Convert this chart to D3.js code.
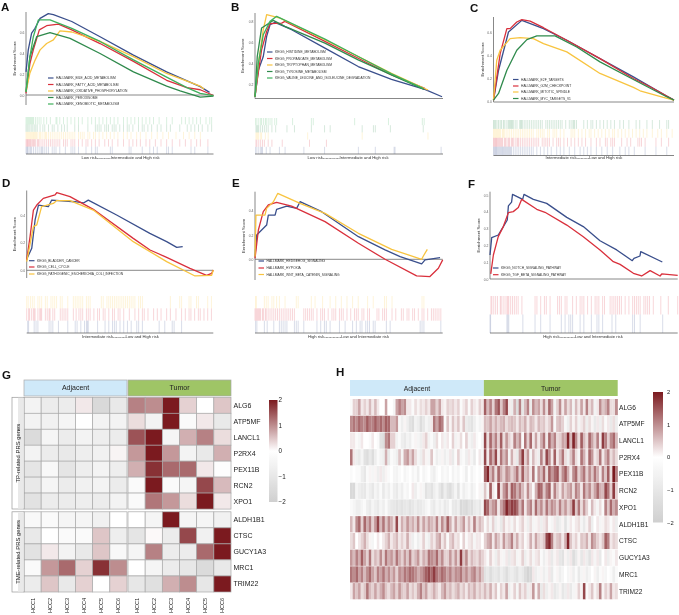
<!DOCTYPE html>
<html><head><meta charset="utf-8">
<script src="https://cdn.jsdelivr.net/npm/d3@7"></script>
<style>html,body{margin:0;padding:0;background:#fff}svg{display:block;filter:blur(.3px)}text{font-family:"Liberation Sans",Arial,sans-serif}</style>
</head><body><svg id="c" width="679" height="615"></svg>
<script>
// ---------- GSEA running scores: [rank %, enrichment score] ----------
const A_BILE=[[0,.22],[1.2,.43],[3,.59],[4.8,.635],[7.5,.73],[11.9,.775],[14.6,.765],[24.4,.70],[39.5,.555],[57.3,.38],[75,.22],[92.9,.08],[97.9,.025]];
const A_FATTY=[[0,.015],[2.1,.30],[3.9,.43],[7.1,.62],[11,.66],[17.3,.675],[24.4,.62],[39.5,.49],[57.3,.32],[75,.14],[85.8,.07],[92.9,.05],[100,-.005]];
const A_OXPHOS=[[0,.03],[2.1,.21],[4.8,.33],[7.5,.43],[11,.49],[14.6,.525],[18.1,.61],[24.4,.60],[39.5,.51],[57.3,.365],[75,.205],[92.9,.085],[95,.055]];
const A_PEROX=[[0,.03],[2.1,.365],[5.7,.555],[12.8,.595],[23.5,.54],[39.5,.395],[57.3,.22],[75,.085],[82.2,.04],[92.9,-.02],[100,-.01]];
const A_XENO=[[0,.03],[2.1,.365],[3.9,.555],[6.6,.715],[12.8,.715],[24.4,.635],[39.5,.51],[57.3,.335],[75,.17],[85.8,.07],[92.9,.015],[100,-.005]];
const B_HIST=[[0,.077],[1.8,.335],[4.4,.465],[6.2,.658],[8,.771],[10.6,.794],[19.5,.723],[37.2,.545],[54.9,.368],[72.6,.245],[90.3,.148],[99.5,.077]];
const B_PROP=[[0,.077],[1.2,.239],[3.5,.529],[6.2,.706],[8,.781],[14.2,.787],[15.9,.803],[37.2,.61],[54.9,.448],[72.6,.287],[90.3,.158]];
const B_TRYP=[[0,.077],[1.8,.4],[4.4,.723],[6.2,.868],[13.3,.835],[37.2,.626],[54.9,.465],[72.6,.303],[92,.142]];
const B_TYRO=[[0,.077],[1.2,.465],[3.5,.739],[6.2,.771],[9.7,.813],[15.9,.755],[37.2,.594],[54.9,.432],[72.6,.287],[89.9,.148]];
const B_VALI=[[0,.077],[1.8,.4],[4.4,.674],[8,.803],[11.5,.852],[37.2,.632],[54.9,.465],[72.6,.297],[89.4,.158]];
const C_E2F=[[0,.014],[2.8,.271],[8.3,.6],[15.7,.7],[27.7,.629],[40.6,.529],[59,.371],[77.5,.214],[95.9,.049],[100,.014]];
const C_G2M=[[0,.014],[3.7,.414],[7.4,.629],[9.2,.629],[12.9,.686],[15.7,.706],[20.3,.694],[27.7,.637],[40.6,.529],[59,.371],[77.5,.2],[86.7,.129],[100,.014]];
const C_MITO=[[0,.014],[1.8,.357],[3.7,.443],[9.2,.543],[14.8,.551],[22.1,.543],[27.7,.5],[40.6,.429],[59,.243],[77.5,.123],[81.2,.094],[94.1,.037],[100,.014]];
const C_MYC=[[0,.014],[2.8,.071],[7.4,.271],[12.9,.443],[18.5,.534],[24,.566],[34.1,.566],[46.1,.471],[59,.343],[77.5,.191],[95.9,.043],[100,.014]];
const D_BLAD=[[0,.08],[2.7,.159],[4.5,.364],[6.3,.472],[11.6,.46],[13.4,.508],[25.9,.496],[30.4,.487],[33,.508],[48.2,.4],[66,.267],[75,.207],[80.4,.166],[83.6,.171]];
const D_CELL=[[0,.075],[1.8,.243],[3.6,.436],[5.4,.472],[8.9,.52],[15.2,.545],[16.1,.561],[23.2,.533],[35.7,.441],[57.1,.231],[66.1,.147],[75,.094],[87.5,.014],[96.4,-.036],[99.1,-.022],[100,.002]];
const D_ECOL=[[0,.063],[3.6,.316],[5.4,.328],[8,.46],[14.3,.484],[16.1,.504],[23.2,.504],[35.7,.436],[57.1,.207],[75,.063],[90.2,-.041],[99.1,-.036],[100,.002]];
const E_HEDG=[[0,.022],[.9,.2],[6.2,.282],[7.1,.364],[10.7,.364],[11.5,.411],[16.9,.438],[22.2,.419],[24,.474],[35.5,.392],[55.1,.186],[69.3,.077],[77.3,.022],[88.8,-.038],[90.6,-.005],[98.6,.014]];
const E_HYPO=[[0,.008],[1.8,.241],[4.4,.392],[7.1,.447],[11.5,.468],[19.5,.438],[37.3,.31],[55.1,.132],[69.3,0],[86.1,-.137],[93.2,-.142],[97.7,-.074],[100,-.005]];
const E_WNT=[[0,.022],[.5,.364],[5.3,.364],[6.2,.419],[9.8,.474],[12.1,.542],[24,.46],[37.3,.378],[55.1,.214],[72.8,.082],[88.8,0],[89.7,.027],[91.8,.082]];
const F_NOTCH=[[0,.143],[.9,.246],[4.4,.262],[7.1,.312],[9.2,.351],[9.8,.435],[11.5,.458],[12,.504],[17.4,.474],[18.1,.504],[23.1,.474],[30.2,.45],[40.9,.367],[49.7,.312],[58.6,.228],[67.5,.173],[75.8,.109],[76.7,.123],[79.9,.137],[80.3,.163],[91.8,.101]];
const F_TGF=[[.4,.03],[1.8,.143],[4.4,.252],[7.1,.312],[9.8,.395],[12.4,.401],[15.1,.425],[16.9,.474],[24.9,.415],[29.3,.397],[40.9,.321],[49.7,.252],[58.6,.173],[65.7,.103],[69.3,.087],[76.4,.034],[80.8,.018],[85.3,.05],[90.6,.018],[91.5,.03],[100,.022]];

// ---------- gene hit positions (rank %) ----------
const R_A_XENO=[0,.5,1,1.5,2,2.5,3,3.5,4,5,6,7,8,9.5,11,13,16,16.5,18,20,22,24,26,28,30,33,35,37,39,41,43,45,47,49,52,54,56,58,60,62,64,66,68,71,75,78,83,85,87,89,91,93,96,98,99];
const R_A_PEROX=[0,.6,1.2,2,2.8,3.6,4.4,5.2,6,7.5,9,10,12,14,15,17,19,20.5,22,26,28,33,37,38,39,40,42,43,44,46,47,48,50,52,54,55,57,60,62,63,65,67,70,72,75,77,82,86,88,90,92,94,97,99];
const R_A_OXPHOS=[0,.5,1,1.5,2,2.5,3,3.5,4,4.5,5,5.5,6,7,7.5,8,9,10,10.5,11,12,13,14,15,16,17,18,19,20,21,22,23,24,25,26,28,29,30,31,33,34,36,37,39,41,43,45,47,49,52,54,56,59,61,64,67,70,73,76,80,84,87,90,93];
const R_A_FATTY=[0,.4,.8,1.2,1.6,2,2.4,3,3.5,4,4.5,5,6,6.5,7,8,9,10,11,12,13,14,15,16,17,18,20,21,22,24,25,26,28,30,32,33,35,37,39,42,44,46,49,52,55,57,59,61,64,66,69,72,75,78,82,85,88,91,93,97];
const R_A_BILE=[0,.4,.8,1.2,2,2.5,3,4,5,6,7,8,8.5,9,10,11,12,14,15,16,18,21,24,25,26,28,32,35,37,38,45,46,55,56,62,66,68,70,75,76,78,88,90,97];
const R_B_VALI=[.3,1,2,3,3.5,4.5,5.5,6,7,8,9,10.5,11.5,20,30,31,53,71,89,90];
const R_B_TYRO=[.5,1,1.5,2,3,4,5,6,7,9,11,17,21,30,37,40,57,63,64,72,89.5];
const R_B_TRYP=[.5,1,1.5,2,3,3.5,5.5,7,28,57,92];
const R_B_PROP=[.5,1,2,3,4,5,7,9,14.5,29,38];
const R_B_HIST=[.3,1,2,3,3.5,4,6,8,13,16,26,37,55,64,74,74.5,99];
const R_C_MYC=[0,.5,1,1.5,2.5,3,4,4.5,5.5,6,7,8,8.5,9,9.5,10,10.5,11,12,13,14.5,15,15.5,16,17,18,19,20,21,22,23,24,25,26,27,29,30,31,32,33,34,35,36,37,38,40,42,43,44,44.5,45,46,50,52,54,55,57,59,61,63,65,67,70,72,75,79,81,85,88,92,96,97];
const R_C_MITO=[0,.5,1,1.5,2,2.5,3,3.5,4,5,5.5,6,7,8,9,10,11,12,13,14,15,16,17,18,19,20,21,22,24,25,26,27,28,30,31,33,34,35,37,39,43,44,45,47,49,51,53,54,56,58,60,62,64,66,67,69,71,73,75,77,79,81,83,85,88,91,93,96,99];
const R_C_G2M=[0,.4,.8,1.2,1.6,2,2.5,3,3.5,4,4.5,5,6,6.5,7,8,8.5,9,10,10.5,11,12,13,13.5,14,15,16,17,18,19,20,21,22,23,24,25,27,28,29,30,31,33,35,36,37,39,41,43,45,47,49,51,54,57,59,62,63,65,66,67,71,74,76,80,81,82,84,90,93,97];
const R_C_E2F=[0,.4,.8,1.2,1.6,2,2.5,3,3.5,4,4.5,5,5.5,6,6.5,7,7.5,8,8.5,9,9.5,10,11,12,13,14,15,16,17,18,19,20,21,22,24,26,28,30,32,35,37,39,42,45,48,50,52,54,57,60,63,66,70,73,75,78,84,90,96];
const R_D_ECOL=[0,.8,2,3,4,6,7,8,10,11,13,14,15,16,18,19,22,25,26,27,28,29,30,32,33,34,40,41,43,44,45,46,47,48,49,50,51,52,53,54,55,56,57,58,60,61,62,77,82,83,87,88,91,92,97,99];
const R_D_CELL=[0,1,1.5,2.5,3.5,4,4.5,6,7,7.5,8,10,11,12,12.5,14,15,18,19,20,21,22,25,26.5,28,29,30,32,33,34,36,38,39,41,42,44,46,47,49,50,52,55,58,60,62,63,65,68,70,72,75,77,80,83,85,87,88,90,92,93,95,97,99];
const R_D_BLAD=[.5,1,4,5,6,12,13,14,17,22,26,27,29,31,32,32.5,33,38,42,44,46,47,48,50,52,54,56,59,60,62,71,74,78,79,83];
const R_E_WNT=[.3,.7,5,6,7,9,10,11.5,13,16,22,23,30,32,36,40,43,46,49,52,55,60,63,69,70,73,89,90];
const R_E_HYPO=[0,.5,1,1.5,2,2.5,3,4,4.5,5.5,6,7,8,9,10,11,12,13,14,15,16,17,18,19,20,21,26,27,28,29,30,31,33,35,36,37,39,41,42,43,45,46,47,49,51,53,54,55,57,58,60,61,65,66,68,69,70,73,75,78,79,81,82,84,85,87,89,90,92,94,95,96,97,98,99];
const R_E_HEDG=[.3,1,5,6.5,10,13,14,15,16,17,21,22,23,26,33,35,37,38,40,45,48,52,54,56,57,59,60,61,63,64,70,72,88,89,90,99];
const R_F_TGF=[.5,1,2,3,4,5.5,6,7,8,9,9.5,10,11,12,13,14,15,17,24,25,27,29,30,32,36,37,38,40,41,44,46,48,49,50,52,54,56,57,58,60,61,64,65,66,67,68,69,70,72,74,76,77,78,79,80,82,83,84,85,87,91,95,100];
const R_F_NOTCH=[0,.3,9,9.5,10,17.5,24,27,32,38,40,42,43,44,48,50,54,57,58,60,65,67,76,77,80,92];

// ---------- heatmap G ----------
const G_GENES=["ALG6","ATP5MF","LANCL1","P2RX4","PEX11B","RCN2","XPO1","ALDH1B1","CTSC","GUCY1A3","MRC1","TRIM22"];
const G_SAMPLES=["HCC1","HCC2","HCC3","HCC4","HCC5","HCC6"];
const G_ALG6=[-.5,-.8,-.8,.2,-1.6,-.9,1.1,1,2,.4,0,.5];
const G_ATP5MF=[-.5,-.6,-.4,0,-.5,-.5,.3,-.5,2,-.2,.2,-.9];
const G_LANCL1=[-1.5,-.4,-.8,-.5,-.7,-.8,1.5,2,-.4,.7,1.1,.3];
const G_P2RX4=[-.5,-.8,-.9,-.7,-.6,.1,.9,2,.9,-.5,-.9,.7];
const G_PEX11B=[-1.1,-.3,-1.1,-.7,-.5,-.7,.7,1.8,1.3,1.3,.2,-.1];
const G_RCN2=[-.9,-.4,-.8,-.6,-.5,-.8,-.2,2,-.2,-.4,1.6,.6];
const G_XPO1=[-1.2,-.8,-.8,-.7,-.8,-.5,-.2,1.2,.9,.3,2,.2];
const G_ALDH1B1=[-.3,-.2,-.4,-.4,-.6,0,0,-.4,2,-.4,-.4,-.6];
const G_CTSC=[-.9,0,-.2,-.2,.5,-.7,-1.1,.05,-.8,1.6,-.6,2];
const G_GUCY1A3=[-1.2,.2,-.5,-.9,.5,-.3,-.4,1.1,-.8,-.8,1.3,2];
const G_MRC1=[-.2,.9,1.3,.4,1.8,1,0,-.4,-.8,-1,-1.5,-.9];
const G_TRIM22=[-.8,.5,-.9,.4,0,.4,-1,-1.3,.7,1,-1,2];

// ---------- heatmap H (50 adjacent columns, then 50 tumor columns) ----------
const H_ALG6=[-.2,.4,.4,.8,.2,.4,.2,.6,.2,.6,.2,0,0,.8,0,0,-.4,.8,1.1,.8,1,.2,.2,-.2,.3,.1,.3,.2,.4,.2,.8,.8,.4,.8,.2,.1,.4,.3,.4,.2,.4,-.2,.2,.4,-.2,.4,.2,.1,.4,.2,
 1.4,.6,1.1,.4,1.2,1.5,.5,1.1,1.6,.2,-.7,.7,-1.4,1.1,-1,.6,1.1,-.8,1,.6,.8,.3,1,.3,1.3,.8,-.5,.4,1,.2,.8,.3,.6,-.5,.6,.2,.8,.2,1.1,.3,.6,-.5,.2,1,.5,.7,1.1,.3,.3,1];
const H_ATP5MF=[1,1.2,1,1.3,1.1,1,1.4,1.1,1.1,1.4,1.1,1.3,1,1.4,1.3,.6,.6,.9,-.3,-.7,.1,-.7,-1.2,-1.4,-.5,-.7,-1.4,-1,-.4,-.7,.2,1.2,.8,1.3,1.1,-.2,.5,.1,.5,.2,.5,.1,.5,-.8,-1,-1.2,-.7,-.2,-.5,.1,
 .6,.5,.8,.4,.7,.4,.6,.7,.3,.5,.6,.5,.2,.6,.4,.7,.2,.6,.5,.2,.6,.4,.5,.2,.4,.9,-.3,.5,.6,.4,-.3,-.7,.4,.1,.4,-.5,.2,.4,-.7,.3,.1,-.9,.2,-.7,.3,-.2,.2,-.9,.3,-.7];
const H_LANCL1=[.2,.2,-.2,-.4,.2,0,0,-.2,.2,0,-.2,-1.2,-1.4,1,1.2,.4,.4,-.5,-.2,-.7,-.9,-.5,-.7,-.2,.1,-.4,-.7,.2,.4,-.5,-.2,-.7,.3,0,.2,-.5,.2,0,.4,-.5,.1,.3,0,.4,-.4,-.7,.2,-.2,0,-.4,
 1.6,.3,1.3,.6,1.1,.4,1.4,.3,.9,.4,.2,1.1,.6,1,-.2,1.2,.4,1.3,.2,.8,.2,.7,1.2,.2,1.3,.7,1.1,.3,.4,.8,.7,1.9,.6,1.9,1,.3,1.4,.6,.3,1.3,.8,.4,1.1,.2,1.7,1.1,.4,1,1.3,.6];
const H_P2RX4=[1.2,.2,-.7,-.9,-.4,-1.2,-1.4,-.9,-1.4,-.7,-.2,-.5,-.7,.7,-.9,-.2,-.4,-.7,.5,-.4,.7,.9,.4,.8,.3,-.4,-.7,.3,.1,-.4,.5,-.2,-.7,-.4,.1,-.7,-.4,.2,-.9,-.2,.4,-.4,-.2,-.7,.2,-.4,-.9,0,.2,-.4,
 1.6,.2,1.3,.7,1.6,.2,1.2,.6,1,-.4,.7,.2,-.9,.8,1.7,.4,.9,-.4,.6,.2,-.7,1.1,.3,1.6,1,.2,1.4,.2,.6,1.2,.3,-.7,.5,1.1,.3,-.4,1.2,.7,.2,1.3,.9,.2,.4,1.2,.2,.7,1.1,.3,.6,.3];
const H_PEX11B=[-.2,0,-.2,-.2,-.7,-1,-.2,.1,-.4,.1,-.7,.2,-.7,.1,-.2,0,-.4,-.5,-.2,0,-.4,-.2,0,-.4,-.2,-.7,0,-.4,-.2,0,-.5,-.7,-.2,0,-.4,-.2,-.4,0,-.5,-.2,-.4,0,-.2,-.7,0,-.5,-.2,0,-.2,0,
 1.4,1.9,.6,1.1,.3,1.3,.7,.4,1,.8,.4,.7,1.2,.4,1.4,.5,.7,.2,1.2,-.4,.9,.6,1.3,.3,1.4,.9,1.3,1.5,.4,1,1.4,.7,.2,1,1.3,.4,.8,1.2,.4,1,.5,1.2,.7,.2,1.1,.5,1.4,.3,2,1.1];
const H_RCN2=[-1.6,-1.6,-.4,-.7,-.9,-1,-.4,-.7,-1,-.4,-.7,-.2,-.9,-.4,-.7,-.2,-.7,-.9,-.4,-.7,-.2,-.4,0,.2,-.7,-.2,.1,-.4,-1.2,-.9,-1.2,-.7,-.4,-1,-1.4,-.7,-1.2,-1.4,-.9,-.4,-1.2,-.2,-.7,-.4,-.2,-.7,-.4,0,.1,-.4,
 .5,-.4,1.4,.2,-.2,1.7,.3,.9,1.3,.4,1.4,1.2,.7,1.1,.6,.2,1,.4,-.2,.7,1.4,1.3,.5,1.1,1.4,.2,1.1,.5,.2,.8,.4,.7,.9,.3,1.1,.8,.2,1.2,.6,1,.4,.8,1.3,.7,.6,1.6,1.2,.4,1.7,.4];
const H_XPO1=[-.2,-.4,-.7,-.7,-.4,-.2,-.7,-.9,-.4,-.7,-.9,-.4,-.7,-.2,-.7,-.9,-1,-1.2,-1,-1.2,-1,-.9,-1.2,-1,-.7,-1,-.9,-.7,-.4,-.2,-.7,-.9,-.4,-.7,-.4,-.9,-.7,-.2,-.9,-1,-.7,-1.6,-1.4,-1.6,-1.2,-1.4,-.9,-.7,-1,-.4,
 1.6,1.3,.6,.9,1.1,.2,.8,1.2,1.9,1.4,1.7,1.6,1.3,.6,1.2,.2,.8,1.1,.3,1.3,.6,1,.4,1.2,.6,1,.8,.4,1.1,.5,.9,.4,.7,1.7,.5,1.2,.3,.9,.4,-.2,.6,.2,-.4,.3,-.2,1.1,.5,1.3,.7,1];
const H_ALDH1B1=[.6,.2,1,1.3,.4,1.3,.7,1.1,.4,.9,1.6,.6,1.2,.5,1,.7,.3,1.6,.2,.7,.4,.9,.5,.7,.4,1,.3,.8,.4,.8,.6,.4,1.1,.3,1,.5,1.4,.7,.2,.8,.3,.5,.9,.2,.6,.2,1.1,.3,.6,.4,
 -.2,.3,-.4,.4,-.7,.1,-.9,.4,.1,.2,-.4,.3,-.2,.2,.4,.1,-.7,.3,-.4,.1,.2,-.7,.2,.4,-.2,-.4,.2,-1,-.7,.1,-1.2,-.4,.2,-.2,.2,.3,-.4,-.9,.1,.4,-.7,0,.2,-.4,.1,.3,.2,-.2,.2,-.7];
const H_CTSC=[.3,.5,0,.2,.4,.7,.3,.1,-.4,0,.2,0,.2,.4,.7,.2,.4,.6,.2,.4,.2,.7,.2,-.7,-.2,-.7,.1,.4,-.4,-.7,.4,.2,.6,.8,.2,.5,-.2,.4,.6,.2,.3,0,.4,-.2,.2,.3,-.4,.2,.2,0,
 .4,.7,.9,.2,.8,.5,.2,.9,.4,.6,1.1,.3,.7,.2,.4,-.2,.2,.7,.2,.8,.4,.3,.5,1.6,1.9,1.1,.3,.5,.6,.2,.7,1.9,.5,.2,.4,.1,.5,.4,.7,.2,1,.7,.4,.2,.5,1.4,1.1,.2,.4,.3];
const H_GUCY1A3=[.9,.6,1.1,.7,1.4,.8,.4,1.2,.3,.6,.4,1,.4,1.2,.7,.9,.5,1.2,.7,.4,.9,.5,1.1,.4,.6,.9,.3,.7,.5,1.2,1,.8,1.3,.6,1,.4,.4,.9,.4,.9,.4,1.7,.5,1,.3,.6,.4,.3,.6,.4,
 .2,-.2,.4,.1,-.7,.3,.1,-.4,.2,-.9,.2,.3,-.4,.1,.4,-.7,.1,.3,-.4,.2,.3,-.2,-.7,.1,.2,-.9,.1,.2,-1,-1.2,.1,-.7,.2,-1.4,-.9,.1,-1,.2,-.7,-1.2,.2,-.4,.2,-.9,0,.2,-.7,.1,-.2,.2];
const H_MRC1=[1.2,1,1.3,.8,1.1,.6,1,1.3,.8,.5,1.1,.8,1.2,.7,1,.6,.9,.4,1,.8,1.2,1,1.3,1.2,1,.7,.9,1.1,1.4,1.6,1.3,1.7,1.2,1,1.3,1.1,.8,1.1,.7,1,.9,1.2,.7,1,.6,.9,1.1,.6,.9,.5,
 -1.2,-.9,-1.4,-1,-.9,-1.2,-.7,-1,-1.4,-.9,-.7,-1,-1.2,-.7,-.9,-1.4,-1.8,-1.6,.2,-.7,-.4,.1,-.7,-.4,.2,-.9,-.2,.1,-.7,-.4,0,-.4,.1,-.7,-.2,-.9,-.4,.1,-.7,-.4,0,.1,-.7,-.2,.1,-.4,0,-.2,-.7,-.2];
const H_TRIM22=[.2,.8,.5,.8,.3,.5,1.2,.6,.4,.8,.4,.7,1,.5,.3,.6,.8,.4,.9,.5,.4,.8,.3,.5,.3,.7,1.1,.5,.8,.3,.4,.7,.4,.2,.6,.9,.4,.6,.3,.5,.7,.3,.5,.2,.6,.4,.7,.3,.5,.3,
 .6,.3,.7,.2,.5,-.2,.4,.2,.8,-.7,.1,.4,-.4,.5,.2,.4,-.7,.2,.9,.1,.7,-.9,.3,-.7,.1,.2,-1,-.7,.1,-1,-.7,.2,-.9,-.4,.1,.4,.1,1.6,-.2,.2,.5,.1,.3,1.1,.1,.4,.2,.8,.2,.3];
const H_ROWS=[H_ALG6,H_ATP5MF,H_LANCL1,H_P2RX4,H_PEX11B,H_RCN2,H_XPO1,H_ALDH1B1,H_CTSC,H_GUCY1A3,H_MRC1,H_TRIM22];
const G_ROWS=[G_ALG6,G_ATP5MF,G_LANCL1,G_P2RX4,G_PEX11B,G_RCN2,G_XPO1,G_ALDH1B1,G_CTSC,G_GUCY1A3,G_MRC1,G_TRIM22];
const LEGEND_TICKS=[2,1,0,-1,-2];

// ---------- panel tables ----------
const NAVY="#3a4f8c",RED="#d9303c",YEL="#f8c440",DGR="#2f8a4c",GRN="#3eb05c";
const panels=[
 {id:"A",lx:1,ly:11,l:26,r:213.5,yd:[0,.6],yr:[95,32],ticks:[0,.2,.4,.6],axT:12,axB:105,base:95,rugT:117,rugB:154,tx:16,foot:"Low risk----------Intermediate and High risk",fx:120.5,fy:158.5,lgX:48,lgY:[78,84.5,91,97.5,104],
  s:[["HALLMARK_BILE_ACID_METABOLISM",NAVY,A_BILE,R_A_BILE],["HALLMARK_FATTY_ACID_METABOLISM",RED,A_FATTY,R_A_FATTY],["HALLMARK_OXIDATIVE_PHOSPHORYLATION",YEL,A_OXPHOS,R_A_OXPHOS],["HALLMARK_PEROXISOME",DGR,A_PEROX,R_A_PEROX],["HALLMARK_XENOBIOTIC_METABOLISM",GRN,A_XENO,R_A_XENO]]},
 {id:"B",lx:231,ly:11,l:255,r:443,yd:[.2,.8],yr:[84,21.7],ticks:[.2,.4,.6,.8],axT:13,axB:98.5,base:98.5,rugT:118,rugB:154,tx:244,foot:"Low risk------------Intermediate and High risk",fx:348,fy:158.5,lgX:267,lgY:[52,58.5,65,71.5,78],
  s:[["KEGG_HISTIDINE_METABOLISM",NAVY,B_HIST,R_B_HIST],["KEGG_PROPANOATE_METABOLISM",RED,B_PROP,R_B_PROP],["KEGG_TRYPTOPHAN_METABOLISM",YEL,B_TRYP,R_B_TRYP],["KEGG_TYROSINE_METABOLISM",DGR,B_TYRO,R_B_TYRO],["KEGG_VALINE_LEUCINE_AND_ISOLEUCINE_DEGRADATION",GRN,B_VALI,R_B_VALI]]},
 {id:"C",lx:470,ly:12,l:493.5,r:674,yd:[0,.6],yr:[101.7,32],ticks:[0,.2,.4,.6],axT:17,axB:102,base:102,rugT:120,rugB:155.5,tx:483.5,foot:"Intermediate risk---------Low and High risk",fx:584,fy:158.5,lgX:513,lgY:[79.5,86,92,98.5],
  s:[["HALLMARK_E2F_TARGETS",NAVY,C_E2F,R_C_E2F],["HALLMARK_G2M_CHECKPOINT",RED,C_G2M,R_C_G2M],["HALLMARK_MITOTIC_SPINDLE",YEL,C_MITO,R_C_MITO],["HALLMARK_MYC_TARGETS_V1",DGR,C_MYC,R_C_MYC]]},
 {id:"D",lx:2,ly:187,l:26.7,r:213.3,yd:[0,.4],yr:[270.3,215],ticks:[0,.2,.4],axT:190.5,axB:278,base:270.3,rugT:296,rugB:333,tx:16,foot:"Intermediate risk---------Low and High risk",fx:120.5,fy:337.5,lgX:29,lgY:[260.7,267,274],
  s:[["KEGG_BLADDER_CANCER",NAVY,D_BLAD,R_D_BLAD],["KEGG_CELL_CYCLE",RED,D_CELL,R_D_CELL],["KEGG_PATHOGENIC_ESCHERICHIA_COLI_INFECTION",YEL,D_ECOL,R_D_ECOL]]},
 {id:"E",lx:232,ly:187,l:255,r:442.7,yd:[0,.4],yr:[259.3,210.7],ticks:[0,.2,.4],axT:191.7,axB:280,base:259.3,rugT:296,rugB:333,tx:245,foot:"High risk------------Low and Intermediate risk",fx:348.5,fy:337.5,lgX:258.5,lgY:[261,268,274.5],
  s:[["HALLMARK_HEDGEHOG_SIGNALING",NAVY,E_HEDG,R_E_HEDG],["HALLMARK_HYPOXIA",RED,E_HYPO,R_E_HYPO],["HALLMARK_WNT_BETA_CATENIN_SIGNALING",YEL,E_WNT,R_E_WNT]]},
 {id:"F",lx:468,ly:188,l:490,r:677.7,yd:[0,.5],yr:[279,195],ticks:[0,.1,.2,.3,.4,.5],axT:191.7,axB:279,base:279,rugT:296,rugB:333,tx:480,foot:"High risk-----------Low and Intermediate risk",fx:583,fy:337.5,lgX:493,lgY:[268,274.7],
  s:[["KEGG_NOTCH_SIGNALING_PATHWAY",NAVY,F_NOTCH,R_F_NOTCH],["KEGG_TGF_BETA_SIGNALING_PATHWAY",RED,F_TGF,R_F_TGF]]}
];

const svg=d3.select("#c");
const tickFmt=d3.format(".1f");
function panelLetter(t,x,y){svg.append("text").attr("x",x).attr("y",y).attr("font-size",11.5).attr("font-weight","bold").attr("fill","#111").text(t);}

panels.forEach(p=>{
  panelLetter(p.id,p.lx,p.ly);
  const x=d3.scaleLinear().domain([0,100]).range([p.l,p.r]);
  const y=d3.scaleLinear().domain(p.yd).range(p.yr);
  const g=svg.append("g");
  const ax=g.append("g").attr("transform",`translate(${p.l},0)`).call(d3.axisLeft(y).tickValues(p.ticks).tickSize(0).tickPadding(1.5).tickFormat(tickFmt));
  ax.select(".domain").remove();
  ax.selectAll("text").attr("font-size",3.4).attr("fill","#666").style("font-family",'"Liberation Sans"');
  g.append("line").attr("x1",p.l).attr("x2",p.l).attr("y1",p.axT).attr("y2",p.axB).attr("stroke","#6a6a6a").attr("stroke-width",.8);
  g.append("line").attr("x1",p.l).attr("x2",p.r).attr("y1",p.base).attr("y2",p.base).attr("stroke","#6a6a6a").attr("stroke-width",.8);
  g.append("text").attr("transform",`translate(${p.tx},${(p.axT+p.axB)/2}) rotate(-90)`).attr("text-anchor","middle").attr("font-size",4.3).attr("fill","#333").text("Enrichment Score");
  const line=d3.line().x(d=>x(d[0])).y(d=>y(d[1]));
  p.s.forEach(s=>{
    g.append("path").attr("d",line(s[2])).attr("fill","none").attr("stroke",s[1]).attr("stroke-width",1.3).attr("stroke-linejoin","round");
  });
  p.s.forEach((s,i)=>{
    g.append("line").attr("x1",p.lgX).attr("x2",p.lgX+5.5).attr("y1",p.lgY[i]).attr("y2",p.lgY[i]).attr("stroke",s[1]).attr("stroke-width",1.2);
    g.append("text").attr("x",p.lgX+8).attr("y",p.lgY[i]+1.2).attr("font-size",3.3).attr("fill","#333").text(s[0]);
  });
  const order=p.s.map((_,i)=>i).reverse();
  const band=d3.scaleBand().domain(order).range([p.rugT,p.rugB]);
  p.s.forEach((s,i)=>{
    g.append("g").selectAll("line").data(s[3]).join("line")
      .attr("x1",d=>x(d)).attr("x2",d=>x(d)).attr("y1",band(i)).attr("y2",band(i)+band.bandwidth())
      .attr("stroke",s[1]).attr("stroke-width",.75).attr("stroke-opacity",.26);
  });
  g.append("line").attr("x1",p.l).attr("x2",p.r).attr("y1",p.rugB).attr("y2",p.rugB).attr("stroke","#666").attr("stroke-width",.8);
  g.append("text").attr("x",p.fx).attr("y",p.fy).attr("text-anchor","middle").attr("font-size",4.2).attr("fill","#333").text(p.foot);
});

// ---------- heatmaps ----------
const color=d3.scaleLinear().domain([-2,0,2]).range(["#cfcfcf","#ffffff","#7b1a1f"]).clamp(true);
const ADJ_COL="#cfe9f9",TUM_COL="#9fc566";

// G
panelLetter("G",2,379);
const gx0=d3.scaleBand().domain(G_SAMPLES).range([24,127]);
const gx1=d3.scaleBand().domain(G_SAMPLES).range([128,231]);
const gRowY=d3.scaleBand().domain(G_GENES.slice(0,7)).range([397.3,509]);
const gRowY2=d3.scaleBand().domain(G_GENES.slice(7)).range([511.8,592]);
const gy=n=>G_GENES.indexOf(n)<7?gRowY(n):gRowY2(n);
[["Adjacent",24,127,ADJ_COL],["Tumor",128,231,TUM_COL]].forEach(a=>{
  svg.append("rect").attr("x",a[1]).attr("y",380).attr("width",a[2]-a[1]).attr("height",16).attr("fill",a[3]).attr("stroke","#aaa").attr("stroke-width",.7);
  svg.append("text").attr("x",(a[1]+a[2])/2).attr("y",390).attr("text-anchor","middle").attr("font-size",7).attr("fill","#222").text(a[0]);
});
G_GENES.forEach((gene,i)=>{
  const h=gRowY.bandwidth();
  G_ROWS[i].forEach((v,j)=>{
    const sx=j<6?gx0(G_SAMPLES[j]):gx1(G_SAMPLES[j-6]);
    svg.append("rect").attr("x",sx).attr("y",gy(gene)).attr("width",gx0.bandwidth()).attr("height",gRowY2.bandwidth()).attr("fill",color(v)).attr("stroke","#a9a9a9").attr("stroke-width",.7);
  });
  svg.append("text").attr("x",233.5).attr("y",gy(gene)+h/2+2.5).attr("font-size",7).attr("fill","#222").text(gene);
});
G_SAMPLES.forEach(s=>{[gx0,gx1].forEach(sc=>{
  svg.append("text").attr("transform",`translate(${sc(s)+sc.bandwidth()/2+2},613) rotate(-90)`).attr("font-size",5.6).attr("fill","#222").text(s);
});});
[["TP-related PRS genes",397.3,509],["TME-related PRS genes",511.8,592]].forEach(a=>{
  svg.append("rect").attr("x",12).attr("y",a[1]).attr("width",12).attr("height",a[2]-a[1]).attr("fill","#fff").attr("stroke","#999").attr("stroke-width",.7);
  svg.append("rect").attr("x",18).attr("y",a[1]+.5).attr("width",5.6).attr("height",a[2]-a[1]-1).attr("fill","#e9e9e9");
  svg.append("text").attr("transform",`translate(19.5,${(a[1]+a[2])/2}) rotate(-90)`).attr("text-anchor","middle").attr("font-size",5.9).attr("fill","#222").text(a[0]);
});

function legend(id,x,w,top,bot,lx,fs){
  const ly=d3.scaleLinear().domain([2,-2]).range([top,bot]);
  const def=svg.append("defs").append("linearGradient").attr("id",id).attr("x1",0).attr("x2",0).attr("y1",0).attr("y2",1);
  d3.range(0,1.001,.05).forEach(f=>def.append("stop").attr("offset",f).attr("stop-color",color(ly.invert(top+f*(bot-top)))));
  svg.append("rect").attr("x",x).attr("y",top).attr("width",w).attr("height",bot-top).attr("fill",`url(#${id})`);
  LEGEND_TICKS.forEach(t=>svg.append("text").attr("x",lx).attr("y",ly(t)+2.2).attr("font-size",fs).attr("fill","#222").text(t<0?"\u2212"+(-t):t));
}
legend("lgG",269,8.5,400,502,278.5,6.3);

// H
panelLetter("H",336,376);
const hCols=d3.range(H_ALG6.length);
const hx=d3.scaleBand().domain(hCols).range([350,617.7]);
const hy=d3.scaleBand().domain(G_GENES).range([399,599.3]).paddingInner(.03);
[["Adjacent",0,50,ADJ_COL],["Tumor",50,100,TUM_COL]].forEach(a=>{
  const x0=hx(a[1]),x1=a[2]<100?hx(a[2]):617.7;
  svg.append("rect").attr("x",x0).attr("y",380).attr("width",x1-x0).attr("height",16).attr("fill",a[3]);
  svg.append("text").attr("x",(x0+x1)/2).attr("y",390.5).attr("text-anchor","middle").attr("font-size",6.8).attr("fill","#222").text(a[0]);
});
G_GENES.forEach((gene,i)=>{
  svg.append("g").selectAll("rect").data(H_ROWS[i]).join("rect")
    .attr("x",(d,j)=>hx(j)).attr("y",hy(gene)).attr("width",hx.bandwidth()+.15).attr("height",hy.bandwidth()).attr("fill",d=>color(d));
  svg.append("text").attr("x",619).attr("y",hy(gene)+hy.bandwidth()/2+2.4).attr("font-size",6.6).attr("fill","#222").text(gene);
});
legend("lgH",653,10,392,522.5,667,5.8);
</script></body></html>
